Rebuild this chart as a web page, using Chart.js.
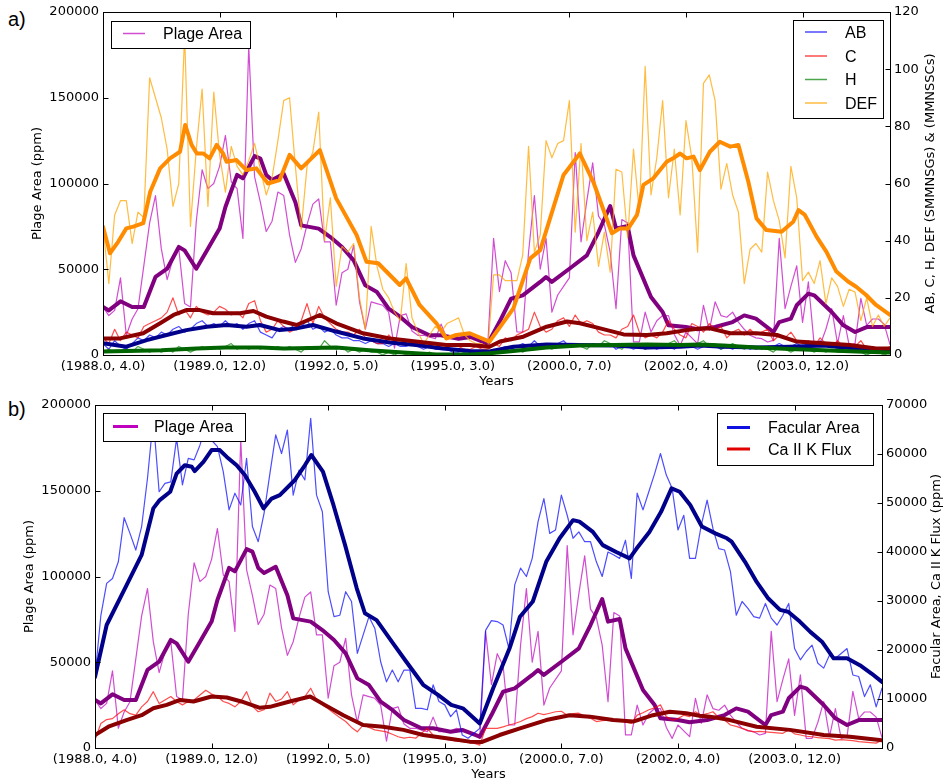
<!DOCTYPE html>
<html>
<head>
<meta charset="utf-8">
<script src="https://cdn.jsdelivr.net/npm/chart.js@4.4.1/dist/chart.umd.min.js"></script>
<style>
  html, body { margin: 0; padding: 0; background: #fff; }
  body { width: 944px; height: 784px; position: relative; overflow: hidden; }
  .panel { position: absolute; left: 0; width: 944px; height: 392px; }
  .tag { position: absolute; left: 8px; font: 20px "Liberation Sans", Arial, sans-serif; line-height: 1; }
</style>
</head>
<body>
<div class="tag" style="top:9px">a)</div>
<div class="panel" style="top:0"><canvas id="chartA"></canvas></div>
<div class="tag" style="top:399px">b)</div>
<div class="panel" style="top:392px"><canvas id="chartB"></canvas></div>
<script>
// x tick labels, one every 20 samples (year, month)
const tickLabels = ["(1988.0, 4.0)", "(1989.0, 12.0)", "(1992.0, 5.0)", "(1995.0, 3.0)",
  "(2000.0, 7.0)", "(2002.0, 4.0)", "(2003.0, 12.0)"];
const lastIndex = 135;

// Plage area, monthly (ppm)
const plageArea = [
  28000, 23000, 26000, 45000, 11500, 21000, 27000, 52000, 77000, 93000,
  62000, 44000, 56000, 62000, 30000, 28000, 78000, 108000, 97000, 100000,
  110000, 128000, 101000, 97000, 68000, 180000, 104000, 89000, 72000, 78000,
  95000, 93000, 70000, 54000, 62000, 76000, 88000, 91000, 66000, 66000,
  29000, 48000, 50000, 64000, 31000, 15000, 31000, 30000, 29000, 25000,
  4000, 23000, 24000, 14000, 11500, 11500, 10500, 9500, 18000, 9500,
  9500, 10000, 11500, 10500, 9000, 7600, 5600, 68000, 37000, 55000,
  48000, 13400, 13400, 60000, 93000, 50000, 68000, 25000, 35000, 40000,
  45000, 118000, 66000, 90000, 112000, 81000, 76000, 60000, 27000, 79000,
  77000, 7600, 7600, 25000, 13400, 20000, 23000, 23000, 12000, 5600,
  13400, 10000, 6600, 29000, 14400, 31000, 23000, 22000, 25000, 19200,
  15000, 11500, 10000, 9500, 7600, 8500, 68000, 27000, 40000, 52000,
  19000, 42600, 5600, 5600, 15000, 27000, 6600, 23000, 5600, 6600,
  33000, 17300, 21000, 21000, 18000, 6000
];
// smoothed plage area [sample, value]
const plageSmooth = [
  [0, 28000], [1, 26000], [3, 31300], [5, 28000], [7, 28000], [9, 45500], [11, 50300],
  [13, 63000], [14, 61000], [16, 50300], [18, 62000], [20, 73700], [21, 86300], [23, 105000],
  [24, 103000], [26, 116000], [27, 114500], [28, 105000], [29, 102000], [31, 105700],
  [33, 89000], [34, 75600], [37, 73700], [39, 68800], [41, 63000], [43, 55200], [45, 40600],
  [47, 36700], [49, 27000], [51, 22200], [53, 16300], [56, 11500], [58, 11500], [61, 9500],
  [63, 10500], [66, 6600], [68, 19200], [70, 32800], [72, 34800], [75, 42600], [76, 45500],
  [77, 42600], [80, 50300], [83, 58100], [85, 71700], [87, 86900], [88, 73700], [90, 75200],
  [91, 58100], [94, 33800], [96, 25100], [97, 17300], [100, 16300], [102, 15000], [105, 16300],
  [108, 19200], [110, 23100], [112, 21200], [115, 13400], [116, 19200], [118, 21200],
  [119, 29000], [121, 35800], [122, 34800], [125, 25100], [127, 17300], [129, 13400],
  [131, 16300], [133, 16300], [135, 16300]
];

// sunspot group counts, monthly
const groupsAB = [
  4, 2, 5, 3, 2, 4, 6, 5, 7, 6,
  8, 7, 9, 10, 8, 9, 11, 12, 10, 11,
  10, 12, 10, 11, 9, 11, 12, 8, 7, 6,
  9, 10, 9, 11, 10, 12, 9, 10, 8, 9,
  7, 6, 6, 5, 5, 4, 5, 4, 4, 3,
  4, 3, 3, 4, 3, 2, 3, 2, 2, 2,
  1, 1, 2, 1, 1, 1, 1, 2, 2, 3,
  2, 3, 4, 3, 5, 3, 4, 3, 4, 5,
  3, 4, 3, 3, 4, 3, 3, 4, 2, 3,
  3, 2, 3, 2, 3, 2, 3, 3, 2, 4,
  3, 3, 2, 3, 4, 3, 2, 3, 2, 3,
  3, 2, 3, 2, 3, 3, 4, 3, 3, 4,
  3, 4, 3, 5, 3, 4, 2, 3, 2, 3,
  2, 2, 1, 2, 1, 2
];
const groupsC = [
  6, 4, 9, 5, 8, 7, 6, 10, 11, 12,
  13, 15, 20, 14, 16, 13, 17, 15, 14, 15,
  17, 16, 14, 15, 13, 18, 19, 12, 8, 9,
  12, 10, 8, 9, 12, 18, 11, 17, 13, 11,
  9, 8, 8, 7, 9, 6, 5, 4, 4, 7,
  5, 4, 5, 4, 4, 3, 3, 3, 2, 3,
  3, 3, 2, 2, 3, 2, 2, 4, 3, 6,
  5, 7, 8, 9, 15, 10, 8, 9, 12, 13,
  10, 14, 11, 12, 11, 8, 7, 7, 6, 9,
  10, 14, 8, 6, 7, 6, 8, 12, 9, 7,
  6, 11, 10, 8, 11, 9, 10, 6, 8, 9,
  7, 9, 7, 8, 9, 5, 7, 6, 8, 5,
  4, 5, 3, 6, 4, 3, 5, 3, 4, 3,
  5, 2, 3, 2, 2, 3
];
const groupsH = [
  1, 2, 1, 1, 2, 1, 3, 2, 1, 2,
  1, 2, 1, 3, 2, 1, 2, 3, 2, 3,
  2, 3, 4, 2, 3, 2, 3, 2, 3, 2,
  3, 2, 3, 2, 1, 3, 2, 2, 5, 3,
  2, 3, 1, 2, 1, 2, 1, 1, 0, 1,
  0, 1, 0, 1, 0, 0, 1, 0, 0, 0,
  0, 0, 1, 0, 0, 0, 0, 1, 1, 2,
  1, 2, 1, 2, 3, 2, 3, 2, 3, 4,
  3, 4, 3, 2, 4, 3, 5, 4, 3, 2,
  4, 3, 4, 2, 3, 4, 3, 4, 5, 3,
  4, 3, 4, 5, 3, 4, 2, 3, 4, 3,
  2, 3, 2, 3, 2, 1, 3, 2, 1, 2,
  3, 2, 1, 2, 1, 2, 1, 1, 2, 1,
  1, 0, 1, 1, 0, 1
];
const groupsDEF = [
  45, 25, 49, 54, 54, 39, 50, 48, 97, 90,
  83, 72, 52, 60, 112, 45, 72, 93, 52, 92,
  70, 57, 73, 66, 63, 68, 74, 65, 56, 62,
  75, 89, 90, 66, 44, 66, 71, 85, 40, 55,
  24, 38, 36, 39, 20, 9, 45, 31, 23, 20,
  15, 12, 32, 13, 8, 4, 7, 10, 8, 11,
  12, 13, 7, 5, 4, 4, 2, 28, 28, 26,
  26, 26, 35, 73, 36, 42, 75, 69, 74, 75,
  89, 43, 74, 40, 50, 31, 43, 29, 65, 64,
  41, 72, 50, 101, 56, 69, 89, 55, 72, 49,
  82, 69, 36, 95, 98, 89, 58, 67, 56, 50,
  25, 37, 39, 36, 64, 54, 47, 34, 66, 55,
  26, 29, 25, 33, 18, 27, 24, 17, 23, 22,
  12, 20, 10, 14, 10, 13
];
const abSmooth = [
  [0, 4.1], [4, 2.9], [7.5, 5.2], [10.9, 7.0], [14.3, 8.7], [17.8, 9.9], [21.2, 10.5],
  [24.6, 9.9], [26.9, 10.5], [30.3, 8.7], [33.2, 9.3], [36, 10.5], [40, 8.2], [44.6, 5.8],
  [49.2, 4.4], [53.7, 3.5], [58.3, 2.3], [62.9, 1.4], [66.3, 1.2], [70.4, 2.9], [76.1, 3.7],
  [81.8, 3.5], [87.6, 3.3], [93.3, 2.6], [99, 2.9], [102.4, 3.3], [106.4, 2.9], [112.1, 2.6],
  [117.8, 2.9], [123.6, 3.3], [129.2, 2.3], [135, 1.7]
];
const cSmooth = [
  [0, 5.8], [2.9, 5.8], [6.9, 7.6], [9.8, 11.1], [12.1, 14.0], [14.3, 15.7], [16.6, 15.7],
  [18.9, 14.6], [23.5, 14.6], [25.8, 15.4], [28, 13.4], [30.9, 11.7], [33.2, 10.5], [37.2, 14.0],
  [40, 11.1], [44.6, 7.6], [49.2, 5.8], [53.7, 4.7], [58.9, 3.5], [62.9, 3.5], [66.3, 2.9],
  [68.1, 4.7], [72.1, 6.4], [76.1, 9.9], [79.6, 11.7], [81.8, 11.1], [85.3, 9.3], [89.3, 7.2],
  [93.3, 7.0], [96.7, 7.6], [100.1, 8.7], [102.4, 9.3], [104.1, 9.3], [107.6, 7.6],
  [112.1, 7.6], [115.6, 7.0], [119, 4.7], [123.6, 4.1], [128.1, 3.5], [132.6, 2.3], [135, 2.3]
];
const hSmooth = [
  [0, 1.2], [4, 1.4], [10, 1.7], [16, 2.3], [21, 2.6], [27, 2.6], [31, 2.3], [40, 2.6],
  [45.7, 1.7], [51.5, 0.9], [57.2, 0.2], [62.9, 0.2], [66.3, 0.6], [70.4, 1.4], [76.1, 2.6],
  [81.8, 3.3], [87.6, 3.5], [93.3, 3.7], [99, 3.5], [102.4, 3.7], [106.4, 3.3], [112.1, 2.6],
  [117.8, 2.1], [123.6, 1.7], [129.2, 1.2], [135, 0.9]
];
const defSmooth = [
  [0, 44.9], [1.2, 35.6], [2.6, 39.6], [4, 44.3], [5.2, 44.9], [6.9, 46.1], [8.1, 57.1],
  [9.8, 65.3], [11.5, 68.8], [13.2, 71.1], [14.1, 80.5], [15.2, 73.5], [16.1, 70.5],
  [17.2, 70.5], [18.3, 68.8], [19.5, 73.5], [20.6, 70.5], [21.2, 67.6], [22.9, 68.2],
  [24.6, 64.7], [26.3, 65.3], [28.3, 60.0], [30.3, 61.2], [32, 70.0], [34, 65.3], [37.2, 71.7],
  [40, 54.8], [43.5, 42.0], [45.2, 32.6], [47.2, 32.1], [50.9, 24.5], [52, 26.8], [54.3, 17.5],
  [57.2, 11.1], [58.9, 5.8], [60.6, 7.0], [62.9, 7.6], [66.3, 4.7], [70.4, 16.3], [73.3, 33.8],
  [75, 36.7], [79, 63.0], [81.8, 70.5], [84.1, 60.6], [87.3, 42.6], [88.7, 44.3], [90.1, 44.3],
  [91.6, 49.0], [92.7, 59.5], [94.4, 61.8], [96.7, 67.6], [97.8, 68.8], [99, 70.5],
  [100.1, 68.8], [101.3, 69.4], [102.4, 64.7], [104.1, 71.1], [105.8, 74.6], [107.6, 72.9],
  [109, 73.5], [110.7, 60.6], [112.1, 47.8], [113.8, 43.7], [116.4, 43.1], [118.4, 46.6],
  [119.3, 50.7], [120.4, 49.0], [122.4, 41.4], [124.1, 36.1], [125.8, 29.2], [127.8, 25.7],
  [129.2, 23.9], [130.9, 21.0], [132.6, 17.5], [135, 14.0]
];

// facular area and Ca II K flux, monthly (ppm)
const facularArea = [
  14500, 27000, 33600, 34600, 38000, 47000, 43800, 40400, 45200, 55000,
  67300, 52300, 54000, 54300, 63200, 53700, 59100, 58800, 61800, 65600,
  62800, 61500, 56400, 48600, 52000, 49600, 59100, 45200, 42100, 47900,
  56000, 63900, 60100, 64900, 51600, 56700, 54700, 67300, 51600, 48200,
  31900, 26800, 27100, 31900, 29900, 19300, 23100, 26800, 24400, 17600,
  13500, 15900, 13500, 15900, 15900, 8100, 8100, 7800, 12900, 9500,
  8800, 6400, 7800, 2650, 2000, 3000, 4000, 24000, 26000, 25800,
  25100, 20300, 33300, 36700, 35000, 38700, 46200, 50900, 43800, 44500,
  51600, 47500, 42800, 44100, 42100, 42100, 38000, 35000, 40000, 39400,
  38700, 42400, 34600, 52000, 48600, 52300, 56000, 60100, 55700, 53000,
  44500, 47500, 38700, 38700, 45500, 50600, 44800, 40700, 40400, 36000,
  27100, 29900, 28500, 26800, 26500, 29500, 26500, 25100, 27100, 29500,
  20300, 18000, 19700, 21000, 17300, 16300, 19000, 18300, 19300, 20300,
  14900, 14600, 10500, 12900, 8400, 12200
];
const caKFlux = [
  1600, 5000, 5800, 6000, 7000, 7800, 7000, 6700, 8400, 9500,
  11500, 9100, 9800, 10500, 9500, 8800, 9500, 9800, 10800, 11800,
  11000, 10500, 9500, 9100, 8400, 9500, 11500, 8500, 7400, 7800,
  11200, 9500, 10000, 11500, 8800, 9800, 10500, 12200, 9800, 8800,
  8000, 7100, 6200, 5400, 4200, 3300, 4700, 4200, 3700, 3500,
  3300, 2800, 2300, 2000, 2200, 2000, 3000, 4000, 2600, 2000,
  1800, 1600, 1400, 1300, 1100, 1000, 600, 4000, 4000, 4000,
  4300, 4700, 5000, 5400, 6000, 6400, 7100, 6800, 7100, 7400,
  7500, 6700, 7000, 7100, 6500, 6100, 5400, 5600, 5700, 5500,
  5700, 5300, 5000, 6700, 7200, 7800, 8200, 8800, 6400, 5700,
  6000, 6700, 6400, 7400, 6700, 7000, 7400, 6200, 5700, 4700,
  4400, 4000, 3600, 3300, 3400, 3300, 3200, 3100, 3000, 3700,
  2900, 2650, 2400, 2300, 2100, 2000, 1900, 1600, 1700, 1600,
  1500, 1300, 1200, 1100, 1000, 1600
];
const facularSmooth = [
  [0, 14500], [2, 25100], [5.4, 33200], [8, 39400], [10, 48900], [11.1, 50600], [12.9, 52300],
  [14, 56000], [15.4, 57700], [16.6, 57400], [17.1, 56500], [18.6, 58400], [20, 60800],
  [21.4, 60800], [22.6, 59400], [24.3, 57700], [25.7, 55700], [27.4, 52300], [28.9, 48900],
  [30.3, 50900], [31.7, 51600], [34.3, 54700], [36, 57700], [37.1, 59800], [39.1, 56400],
  [40.9, 49600], [42.9, 41400], [44.9, 32600], [46.3, 27500], [48.3, 26100], [51.1, 21400],
  [53.4, 17600], [56.3, 12900], [58.9, 10800], [61.1, 8800], [63.1, 8100], [66, 5000],
  [68.3, 12200], [71.1, 20300], [72.9, 26800], [75.1, 29900], [77.4, 38000], [79.7, 42800],
  [82, 46500], [83.1, 46200], [85.4, 44100], [87.1, 41400], [89.4, 40000], [91.7, 38700],
  [92.9, 40700], [95.1, 44100], [97.1, 48200], [98.9, 53000], [100.3, 52300], [102.1, 49600],
  [104.1, 45200], [106.4, 43800], [108.4, 42800], [109.2, 42100], [111.5, 38000],
  [113.5, 33900], [115.5, 30500], [117.5, 28200], [118.9, 27800], [120.9, 25800],
  [122.7, 23700], [124.7, 21700], [126.7, 18300], [129, 18300], [131.2, 16900],
  [133.2, 15200], [135, 13500]
];
const caKSmooth = [
  [0, 2650], [2.3, 4350], [5.4, 5700], [8, 6700], [10, 8100], [12.3, 8800], [14.6, 9800],
  [16.9, 9500], [20, 10500], [22.6, 10300], [25.1, 9500], [28.3, 8200], [30, 8400],
  [33.4, 9500], [36.9, 10500], [39.4, 8800], [42.6, 6700], [46, 4700], [49.4, 4350],
  [52.9, 3700], [56.3, 2650], [60.3, 2000], [64.3, 1300], [66.3, 1200], [69.4, 2650],
  [72.9, 4000], [77.4, 5700], [81.4, 6700], [84.9, 6400], [88.9, 5700], [92.3, 5400],
  [95.7, 6700], [98.6, 7400], [101.4, 7100], [103.7, 6600], [105.5, 6400], [108.9, 5700],
  [113.5, 4350], [119.2, 3700], [125, 2650], [129.5, 2300], [135, 1600]
];

Chart.defaults.font.family = '"DejaVu Sans", Verdana, sans-serif';
Chart.defaults.font.size = 13;
Chart.defaults.color = '#000';

const toPoints = arr => arr.map((v, i) => ({ x: i, y: v }));
const toPairs = arr => arr.map(p => ({ x: p[0], y: p[1] }));

function line(data, color, width, axis) {
  return {
    data: data, borderColor: color, borderWidth: width, yAxisID: axis,
    pointRadius: 0, pointHoverRadius: 0, tension: 0, fill: false,
    borderJoinStyle: 'round', borderCapStyle: 'round'
  };
}

// frame, inward ticks, legends and axis titles
const decor = {
  id: 'decor',
  afterDatasetsDraw(chart, args, opts) {
    const ctx = chart.ctx;
    const a = chart.chartArea;
    const l = Math.round(a.left) + 0.5, r = Math.round(a.right) + 0.5;
    const t = Math.round(a.top) + 0.5, b = Math.round(a.bottom) + 0.5;
    ctx.save();
    ctx.strokeStyle = '#000';
    ctx.lineWidth = 1;
    ctx.beginPath();
    const len = 5;
    chart.scales.x.ticks.forEach(tk => {
      const px = Math.round(chart.scales.x.getPixelForValue(tk.value)) + 0.5;
      ctx.moveTo(px, b); ctx.lineTo(px, b - len);
      ctx.moveTo(px, t); ctx.lineTo(px, t + len);
    });
    chart.scales.yL.ticks.forEach(tk => {
      const py = Math.round(chart.scales.yL.getPixelForValue(tk.value)) + 0.5;
      ctx.moveTo(l, py); ctx.lineTo(l + len, py);
    });
    chart.scales.yR.ticks.forEach(tk => {
      const py = Math.round(chart.scales.yR.getPixelForValue(tk.value)) + 0.5;
      ctx.moveTo(r, py); ctx.lineTo(r - len, py);
    });
    ctx.stroke();
    ctx.strokeRect(l, t, r - l, b - t);

    // legends
    opts.legends.forEach(lg => {
      ctx.fillStyle = '#fff';
      ctx.fillRect(lg.box[0], lg.box[1], lg.box[2], lg.box[3]);
      ctx.strokeStyle = '#000';
      ctx.lineWidth = 1;
      ctx.strokeRect(lg.box[0] + 0.5, lg.box[1] + 0.5, lg.box[2], lg.box[3]);
      ctx.font = '16px "Liberation Sans", Arial, sans-serif';
      ctx.textAlign = 'left';
      ctx.textBaseline = 'alphabetic';
      lg.rows.forEach(row => {
        ctx.strokeStyle = row.color;
        ctx.lineWidth = row.width;
        ctx.beginPath();
        ctx.moveTo(lg.lineX[0], row.y);
        ctx.lineTo(lg.lineX[1], row.y);
        ctx.stroke();
        ctx.fillStyle = '#000';
        ctx.fillText(row.label, lg.textX, row.y + 5.5);
      });
    });

    // axis titles
    ctx.font = '13px "DejaVu Sans", Verdana, sans-serif';
    ctx.fillStyle = '#000';
    ctx.textAlign = 'center';
    ctx.textBaseline = 'middle';
    opts.titles.forEach(tt => {
      ctx.save();
      ctx.translate(tt.x, tt.y);
      ctx.rotate(tt.rot);
      ctx.fillText(tt.text, 0, 0);
      ctx.restore();
    });
    ctx.restore();
  }
};

function makeChart(id, datasets, cfg) {
  datasets.forEach((d, i) => { d.order = -i; });
  return new Chart(document.getElementById(id), {
    type: 'line',
    data: { datasets: datasets },
    options: {
      responsive: true,
      maintainAspectRatio: false,
      animation: false,
      events: [],
      layout: { autoPadding: false, padding: { top: cfg.area.top, left: 0, right: 0, bottom: 0 } },
      plugins: {
        legend: { display: false },
        tooltip: { enabled: false },
        decor: { legends: cfg.legends, titles: cfg.titles }
      },
      scales: {
        x: {
          type: 'linear', min: 0, max: lastIndex,
          grid: { display: false, drawTicks: false },
          border: { display: false },
          ticks: {
            stepSize: 20, includeBounds: false, maxRotation: 0, minRotation: 0,
            autoSkip: false, padding: 4,
            callback: v => (v % 20 === 0 ? tickLabels[v / 20] : undefined)
          },
          afterFit: s => { s.height = 392 - cfg.area.bottom; }
        },
        yL: {
          type: 'linear', position: 'left', min: 0, max: 200000,
          grid: { display: false, drawTicks: false },
          border: { display: false },
          ticks: { stepSize: 50000, padding: 4, callback: v => String(v) },
          afterFit: s => { s.width = cfg.area.left; }
        },
        yR: {
          type: 'linear', position: 'right', min: 0, max: cfg.rightMax,
          grid: { display: false, drawTicks: false },
          border: { display: false },
          ticks: { stepSize: cfg.rightStep, padding: 4, callback: v => String(v) },
          afterFit: s => { s.width = 944 - cfg.area.right; }
        }
      }
    },
    plugins: [decor]
  });
}

// panel a: plage area vs sunspot group classes
makeChart('chartA', [
  line(toPoints(plageArea), 'rgba(191,0,191,0.7)', 1.2, 'yL'),
  line(toPairs(plageSmooth), '#800080', 4, 'yL'),
  line(toPoints(groupsAB), 'rgba(0,0,255,0.7)', 1.2, 'yR'),
  line(toPoints(groupsC), 'rgba(255,0,0,0.7)', 1.2, 'yR'),
  line(toPoints(groupsH), 'rgba(0,128,0,0.7)', 1.2, 'yR'),
  line(toPoints(groupsDEF), 'rgba(255,165,0,0.75)', 1.2, 'yR'),
  line(toPairs(abSmooth), '#00008b', 4, 'yR'),
  line(toPairs(cSmooth), '#8b0000', 4, 'yR'),
  line(toPairs(hSmooth), '#006400', 4, 'yR'),
  line(toPairs(defSmooth), '#ff8c00', 4, 'yR')
], {
  area: { left: 103, right: 890, top: 12, bottom: 355 },
  rightMax: 120, rightStep: 20,
  legends: [
    { box: [111, 21, 139, 27], lineX: [123, 145], textX: 163,
      rows: [{ label: 'Plage Area', color: 'rgba(191,0,191,0.7)', width: 1.5, y: 33.5 }] },
    { box: [793, 20, 90, 98], lineX: [805, 827], textX: 845,
      rows: [
        { label: 'AB', color: 'rgba(0,0,255,0.7)', width: 1.5, y: 32 },
        { label: 'C', color: 'rgba(255,0,0,0.7)', width: 1.5, y: 56 },
        { label: 'H', color: 'rgba(0,128,0,0.7)', width: 1.5, y: 79.5 },
        { label: 'DEF', color: 'rgba(255,165,0,0.75)', width: 1.5, y: 103 }
      ] }
  ],
  titles: [
    { text: 'Plage Area (ppm)', x: 38, y: 183.5, rot: -Math.PI / 2 },
    { text: 'Years', x: 496.5, y: 382, rot: 0 },
    { text: 'AB, C, H, DEF (SMMNSGs) & (MMNSSCs)', x: 931, y: 183.5, rot: -Math.PI / 2 }
  ]
});

// panel b: plage area vs facular area and Ca II K flux
makeChart('chartB', [
  line(toPoints(plageArea), 'rgba(191,0,191,0.7)', 1.2, 'yL'),
  line(toPairs(plageSmooth), '#800080', 4, 'yL'),
  line(toPoints(facularArea), 'rgba(0,0,255,0.7)', 1.2, 'yR'),
  line(toPoints(caKFlux), 'rgba(255,0,0,0.7)', 1.2, 'yR'),
  line(toPairs(facularSmooth), '#00008b', 4, 'yR'),
  line(toPairs(caKSmooth), '#8b0000', 4, 'yR')
], {
  area: { left: 95, right: 882, top: 13, bottom: 356 },
  rightMax: 70000, rightStep: 10000,
  legends: [
    { box: [103, 21, 142, 28], lineX: [113, 138], textX: 154,
      rows: [{ label: 'Plage Area', color: '#bf00bf', width: 3, y: 34.5 }] },
    { box: [717, 21, 156, 52], lineX: [727, 750], textX: 768,
      rows: [
        { label: 'Facular Area', color: '#1010e0', width: 3, y: 35.5 },
        { label: 'Ca II K Flux', color: '#e00000', width: 3, y: 57 }
      ] }
  ],
  titles: [
    { text: 'Plage Area (ppm)', x: 30, y: 184.5, rot: -Math.PI / 2 },
    { text: 'Years', x: 488.5, y: 383, rot: 0 },
    { text: 'Facular Area, Ca II K Flux (ppm)', x: 937, y: 184.5, rot: -Math.PI / 2 }
  ]
});
</script>
</body>
</html>
